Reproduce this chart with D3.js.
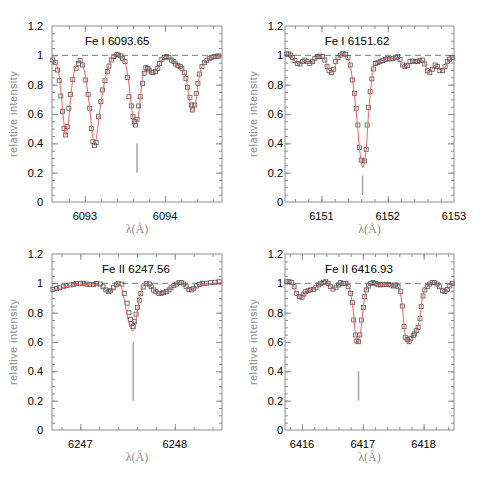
<!DOCTYPE html>
<html>
<head>
<meta charset="utf-8">
<script src="https://cdn.jsdelivr.net/npm/d3@7"></script>
<style>
  body { margin: 0; background: #fff; }
  svg { display: block; }
  text { font-family: "Liberation Sans", Arial, sans-serif; }
</style>
</head>
<body>
<script>
// line labels and positions of the marked line
var titles = ["Fe I 6093.65", "Fe I 6151.62", "Fe II 6247.56", "Fe II 6416.93"];
var lineCenters = [6093.65, 6151.62, 6247.56, 6416.93];
var markLow = [0.2, 0.05, 0.2, 0.2];
var markHigh = [0.4, 0.18, 0.6, 0.4];
var titleWave = [6093.0, 6151.05, 6247.23, 6416.38];

var xDomains = [[6092.59, 6094.71], [6150.45, 6153.0], [6246.7, 6248.5], [6415.72, 6418.5]];
var xTicks = [[6093, 6094], [6151, 6152, 6153], [6247, 6248], [6416, 6417, 6418]];
var yTicks = [0, 0.2, 0.4, 0.6, 0.8, 1, 1.2];

// observed spectrum (squares)
var obsWave1 = [6092.60, 6092.63, 6092.66, 6092.68, 6092.70, 6092.72, 6092.74, 6092.76, 6092.78, 6092.80, 6092.82, 6092.85, 6092.89, 6092.92, 6092.94, 6092.97, 6093.01, 6093.04, 6093.06, 6093.08, 6093.10, 6093.12, 6093.14, 6093.17, 6093.20, 6093.22, 6093.25, 6093.28, 6093.30, 6093.33, 6093.36, 6093.40, 6093.42, 6093.45, 6093.47, 6093.50, 6093.53, 6093.55, 6093.58, 6093.60, 6093.62, 6093.63, 6093.65, 6093.67, 6093.69, 6093.72, 6093.74, 6093.76, 6093.78, 6093.80, 6093.83, 6093.85, 6093.88, 6093.91, 6093.93, 6093.96, 6093.99, 6094.02, 6094.05, 6094.08, 6094.11, 6094.13, 6094.16, 6094.19, 6094.21, 6094.24, 6094.26, 6094.28, 6094.31, 6094.33, 6094.34, 6094.37, 6094.39, 6094.41, 6094.43, 6094.46, 6094.49, 6094.52, 6094.55, 6094.58, 6094.61, 6094.65, 6094.67];
var obsFlux1 = [0.968, 0.952, 0.900, 0.827, 0.723, 0.616, 0.502, 0.457, 0.514, 0.639, 0.734, 0.836, 0.911, 0.945, 0.964, 0.934, 0.832, 0.734, 0.639, 0.502, 0.411, 0.384, 0.405, 0.582, 0.684, 0.764, 0.827, 0.889, 0.927, 0.968, 0.991, 1.007, 1.002, 0.995, 0.980, 0.957, 0.848, 0.718, 0.655, 0.582, 0.548, 0.525, 0.564, 0.655, 0.718, 0.809, 0.877, 0.916, 0.911, 0.900, 0.886, 0.882, 0.889, 0.911, 0.945, 0.973, 0.986, 0.991, 0.984, 0.968, 0.957, 0.941, 0.930, 0.923, 0.911, 0.882, 0.843, 0.782, 0.714, 0.661, 0.627, 0.661, 0.741, 0.809, 0.873, 0.923, 0.950, 0.964, 0.977, 0.986, 0.991, 0.995, 0.995];

var obsWave2 = [6150.475, 6150.505, 6150.535, 6150.565, 6150.60, 6150.635, 6150.675, 6150.715, 6150.75, 6150.785, 6150.825, 6150.865, 6150.90, 6150.935, 6150.975, 6151.015, 6151.05, 6151.085, 6151.115, 6151.15, 6151.185, 6151.215, 6151.25, 6151.285, 6151.325, 6151.365, 6151.40, 6151.435, 6151.465, 6151.50, 6151.525, 6151.55, 6151.575, 6151.60, 6151.65, 6151.675, 6151.69, 6151.71, 6151.735, 6151.76, 6151.785, 6151.815, 6151.85, 6151.885, 6151.925, 6151.965, 6152.00, 6152.035, 6152.075, 6152.115, 6152.15, 6152.185, 6152.225, 6152.26, 6152.30, 6152.335, 6152.375, 6152.415, 6152.45, 6152.485, 6152.525, 6152.56, 6152.60, 6152.635, 6152.675, 6152.715, 6152.75, 6152.785, 6152.825, 6152.865, 6152.90, 6152.935, 6152.975];
var obsFlux2 = [1.009, 1.009, 1.002, 0.986, 0.964, 0.945, 0.941, 0.957, 0.968, 0.957, 0.945, 0.957, 0.980, 0.991, 0.995, 0.991, 0.968, 0.923, 0.895, 0.882, 0.905, 0.957, 0.986, 1.002, 1.014, 1.007, 0.986, 0.934, 0.832, 0.741, 0.639, 0.525, 0.370, 0.286, 0.280, 0.359, 0.525, 0.645, 0.752, 0.839, 0.907, 0.945, 0.950, 0.957, 0.964, 0.973, 0.980, 0.975, 0.977, 0.984, 0.991, 0.973, 0.934, 0.923, 0.930, 0.957, 0.961, 0.957, 0.957, 0.964, 0.968, 0.941, 0.895, 0.882, 0.905, 0.934, 0.923, 0.895, 0.895, 0.923, 0.957, 0.973, 0.986];

var obsWave3 = [6246.71, 6246.75, 6246.78, 6246.82, 6246.85, 6246.89, 6246.93, 6246.96, 6247.00, 6247.03, 6247.07, 6247.10, 6247.14, 6247.17, 6247.21, 6247.24, 6247.27, 6247.30, 6247.32, 6247.35, 6247.38, 6247.40, 6247.44, 6247.465, 6247.495, 6247.515, 6247.53, 6247.545, 6247.56, 6247.575, 6247.59, 6247.605, 6247.625, 6247.64, 6247.665, 6247.70, 6247.73, 6247.75, 6247.775, 6247.80, 6247.83, 6247.855, 6247.88, 6247.91, 6247.94, 6247.96, 6247.99, 6248.02, 6248.045, 6248.07, 6248.095, 6248.12, 6248.15, 6248.175, 6248.20, 6248.23, 6248.26, 6248.29, 6248.335, 6248.38, 6248.425, 6248.47];
var obsFlux3 = [0.959, 0.964, 0.970, 0.977, 0.984, 0.989, 0.993, 0.998, 1.000, 1.000, 0.995, 0.991, 0.993, 0.998, 0.995, 0.977, 0.955, 0.943, 0.950, 0.970, 0.989, 1.000, 0.995, 0.930, 0.865, 0.800, 0.755, 0.725, 0.705, 0.740, 0.790, 0.835, 0.885, 0.930, 0.975, 0.998, 0.995, 0.977, 0.955, 0.943, 0.932, 0.932, 0.936, 0.943, 0.955, 0.970, 0.984, 0.995, 1.005, 1.005, 0.995, 0.977, 0.959, 0.955, 0.966, 0.982, 0.993, 1.000, 1.000, 1.005, 1.007, 1.011];

var obsWave4 = [6415.75, 6415.79, 6415.83, 6415.87, 6415.91, 6415.96, 6416.00, 6416.03, 6416.06, 6416.10, 6416.14, 6416.19, 6416.23, 6416.27, 6416.31, 6416.35, 6416.39, 6416.43, 6416.47, 6416.51, 6416.56, 6416.60, 6416.63, 6416.68, 6416.72, 6416.76, 6416.80, 6416.83, 6416.85, 6416.88, 6416.90, 6416.93, 6416.95, 6416.98, 6417.01, 6417.03, 6417.06, 6417.09, 6417.13, 6417.17, 6417.21, 6417.25, 6417.29, 6417.33, 6417.38, 6417.42, 6417.46, 6417.50, 6417.54, 6417.58, 6417.62, 6417.65, 6417.68, 6417.70, 6417.73, 6417.76, 6417.79, 6417.83, 6417.85, 6417.88, 6417.91, 6417.94, 6417.96, 6417.99, 6418.02, 6418.06, 6418.10, 6418.14, 6418.18, 6418.22, 6418.26, 6418.31, 6418.35, 6418.39, 6418.43, 6418.47];
var obsFlux4 = [1.011, 1.011, 1.007, 0.977, 0.932, 0.909, 0.905, 0.927, 0.943, 0.950, 0.955, 0.959, 0.973, 0.989, 1.000, 1.007, 1.011, 1.000, 0.977, 0.961, 0.973, 0.989, 1.005, 1.000, 1.000, 0.977, 0.932, 0.868, 0.750, 0.648, 0.607, 0.602, 0.648, 0.750, 0.836, 0.909, 0.955, 0.982, 1.000, 1.005, 1.000, 0.993, 0.989, 0.993, 0.993, 0.993, 0.989, 0.982, 0.989, 0.977, 0.943, 0.845, 0.705, 0.632, 0.618, 0.602, 0.625, 0.643, 0.655, 0.677, 0.700, 0.761, 0.841, 0.914, 0.955, 0.977, 0.995, 1.005, 1.005, 0.995, 0.977, 0.950, 0.943, 0.959, 0.982, 1.000];

// synthetic fit (red line)
var modWave1 = [6092.59, 6092.63, 6092.67, 6092.70, 6092.73, 6092.76, 6092.79, 6092.82, 6092.86, 6092.90, 6092.94, 6092.98, 6093.02, 6093.06, 6093.09, 6093.12, 6093.15, 6093.19, 6093.24, 6093.30, 6093.36, 6093.41, 6093.46, 6093.50, 6093.54, 6093.58, 6093.62, 6093.65, 6093.69, 6093.73, 6093.77, 6093.81, 6093.85, 6093.89, 6093.94, 6094.00, 6094.06, 6094.12, 6094.18, 6094.22, 6094.26, 6094.30, 6094.34, 6094.37, 6094.41, 6094.45, 6094.50, 6094.56, 6094.63, 6094.71];
var modFlux1 = [0.975, 0.955, 0.890, 0.760, 0.590, 0.455, 0.520, 0.700, 0.870, 0.940, 0.965, 0.920, 0.810, 0.640, 0.480, 0.385, 0.460, 0.640, 0.800, 0.930, 0.990, 1.005, 0.990, 0.955, 0.840, 0.660, 0.530, 0.550, 0.700, 0.870, 0.915, 0.890, 0.880, 0.895, 0.950, 0.990, 0.975, 0.945, 0.925, 0.905, 0.850, 0.720, 0.620, 0.650, 0.800, 0.910, 0.955, 0.980, 0.990, 1.000];

var modWave2 = [6150.45, 6150.50, 6150.55, 6150.60, 6150.66, 6150.72, 6150.76, 6150.82, 6150.87, 6150.93, 6151.00, 6151.05, 6151.10, 6151.15, 6151.20, 6151.25, 6151.31, 6151.37, 6151.42, 6151.46, 6151.50, 6151.54, 6151.58, 6151.625, 6151.67, 6151.71, 6151.75, 6151.79, 6151.83, 6151.88, 6151.94, 6152.00, 6152.06, 6152.12, 6152.16, 6152.20, 6152.25, 6152.30, 6152.35, 6152.42, 6152.48, 6152.53, 6152.57, 6152.62, 6152.67, 6152.71, 6152.75, 6152.80, 6152.85, 6152.90, 6152.95, 6153.0];
var modFlux2 = [1.005, 1.005, 0.990, 0.960, 0.940, 0.955, 0.965, 0.945, 0.955, 0.985, 0.990, 0.970, 0.905, 0.880, 0.920, 0.980, 1.005, 1.000, 0.955, 0.860, 0.720, 0.540, 0.340, 0.235, 0.340, 0.600, 0.800, 0.920, 0.950, 0.955, 0.970, 0.980, 0.977, 0.985, 0.975, 0.940, 0.920, 0.930, 0.955, 0.958, 0.965, 0.965, 0.930, 0.880, 0.905, 0.930, 0.925, 0.895, 0.910, 0.955, 0.980, 0.990];

var modWave3 = [6246.70, 6246.78, 6246.86, 6246.94, 6247.00, 6247.07, 6247.14, 6247.20, 6247.25, 6247.30, 6247.35, 6247.39, 6247.42, 6247.455, 6247.485, 6247.51, 6247.535, 6247.555, 6247.575, 6247.60, 6247.63, 6247.665, 6247.70, 6247.76, 6247.82, 6247.88, 6247.94, 6248.00, 6248.06, 6248.11, 6248.16, 6248.21, 6248.27, 6248.33, 6248.40, 6248.50];
var modFlux3 = [0.955, 0.965, 0.980, 0.990, 0.995, 0.990, 0.990, 0.990, 0.960, 0.940, 0.960, 0.985, 0.995, 0.920, 0.820, 0.740, 0.690, 0.675, 0.700, 0.790, 0.905, 0.980, 1.000, 0.970, 0.935, 0.935, 0.955, 0.990, 1.000, 0.980, 0.960, 0.965, 0.990, 0.995, 1.000, 1.007];

var modWave4 = [6415.72, 6415.80, 6415.85, 6415.90, 6415.96, 6416.01, 6416.06, 6416.12, 6416.19, 6416.25, 6416.31, 6416.38, 6416.44, 6416.50, 6416.56, 6416.62, 6416.70, 6416.76, 6416.80, 6416.84, 6416.88, 6416.92, 6416.96, 6417.00, 6417.04, 6417.09, 6417.15, 6417.22, 6417.30, 6417.38, 6417.46, 6417.53, 6417.58, 6417.62, 6417.66, 6417.70, 6417.75, 6417.80, 6417.85, 6417.90, 6417.94, 6417.98, 6418.03, 6418.09, 6418.15, 6418.21, 6418.27, 6418.33, 6418.38, 6418.44, 6418.50];
var modFlux4 = [1.010, 1.010, 0.990, 0.940, 0.905, 0.905, 0.940, 0.952, 0.960, 0.985, 1.000, 1.010, 0.995, 0.965, 0.970, 0.995, 1.000, 0.980, 0.930, 0.820, 0.660, 0.600, 0.660, 0.810, 0.930, 0.985, 1.000, 0.997, 0.990, 0.993, 0.987, 0.985, 0.975, 0.930, 0.800, 0.640, 0.595, 0.625, 0.655, 0.700, 0.770, 0.900, 0.965, 0.990, 1.005, 0.995, 0.970, 0.945, 0.950, 0.980, 1.005];

var obsWaves = [obsWave1, obsWave2, obsWave3, obsWave4];
var obsFluxes = [obsFlux1, obsFlux2, obsFlux3, obsFlux4];
var modWaves = [modWave1, modWave2, modWave3, modWave4];
var modFluxes = [modFlux1, modFlux2, modFlux3, modFlux4];

// panel frames: [left, right, top, bottom] and panel origin
var frames = [[52, 222, 26, 202], [285, 454, 26, 202], [52, 222, 254, 430], [285, 454, 254, 430]];
var origins = [[0, 0], [240, 0], [0, 228], [240, 228]];

var svg = d3.select("body").append("svg")
    .attr("width", 480)
    .attr("height", 480);

var grey = "#8c8c8c";

for (var p = 0; p < 4; p++) {
    var f = frames[p], o = origins[p];
    var x = d3.scaleLinear().domain(xDomains[p]).range([f[0], f[1]]);
    var y = d3.scaleLinear().domain([0, 1.2]).range([f[3], f[2]]);

    var xMinor = d3.range(Math.ceil(xDomains[p][0] * 5) / 5, xDomains[p][1] + 0.001, 0.2)
        .filter(function (v) { return v > xDomains[p][0] + 0.02 && v < xDomains[p][1] - 0.02; });
    var yMinor = d3.range(0.05, 1.2, 0.05);
    var xMajor = xTicks[p].filter(function (v) { return v < xDomains[p][1] - 0.02; });

    var g = svg.append("g");

    // ticks, all inward
    function tickGroup(axis, tx, ty) {
        var a = g.append("g").attr("transform", "translate(" + tx + "," + ty + ")").call(axis);
        a.select(".domain").remove();
        a.selectAll("line").attr("stroke", grey).attr("stroke-width", 1);
        a.selectAll("text").remove();
    }
    tickGroup(d3.axisBottom(x).tickValues(xMinor).tickSize(-3), 0, f[3]);
    tickGroup(d3.axisBottom(x).tickValues(xMajor).tickSize(-6), 0, f[3]);
    tickGroup(d3.axisTop(x).tickValues(xMinor).tickSize(-3), 0, f[2]);
    tickGroup(d3.axisTop(x).tickValues(xMajor).tickSize(-6), 0, f[2]);
    tickGroup(d3.axisLeft(y).tickValues(yMinor).tickSize(-3), f[0], 0);
    tickGroup(d3.axisLeft(y).tickValues(yTicks.slice(1, 6)).tickSize(-6), f[0], 0);
    tickGroup(d3.axisRight(y).tickValues(yMinor).tickSize(-3), f[1], 0);
    tickGroup(d3.axisRight(y).tickValues(yTicks.slice(1, 6)).tickSize(-6), f[1], 0);

    // frame
    g.append("rect")
        .attr("x", f[0]).attr("y", f[2])
        .attr("width", f[1] - f[0]).attr("height", f[3] - f[2])
        .attr("fill", "none").attr("stroke", grey).attr("stroke-width", 1);

    // tick labels
    g.selectAll(".ylab").data(yTicks).enter().append("text")
        .attr("x", o[0] + 43)
        .attr("y", function (d) { return y(d) + 4; })
        .attr("text-anchor", "end")
        .attr("font-size", 11)
        .attr("fill", "#000")
        .text(function (d) { return d; });
    g.selectAll(".xlab").data(xTicks[p]).enter().append("text")
        .attr("x", function (d) { return x(d); })
        .attr("y", f[3] + 18)
        .attr("text-anchor", "middle")
        .attr("font-size", 11)
        .attr("fill", "#000")
        .text(function (d) { return d; });

    // axis titles
    g.append("text")
        .attr("x", (f[0] + f[1]) / 2).attr("y", f[3] + 31)
        .attr("text-anchor", "middle")
        .attr("font-size", 12)
        .attr("fill", grey)
        .style("font-family", "'Liberation Serif', 'DejaVu Serif', serif")
        .text("λ(Å)");
    g.append("text")
        .attr("transform", "translate(" + (o[0] + 17) + "," + ((f[2] + f[3]) / 2) + ") rotate(-90)")
        .attr("text-anchor", "middle")
        .attr("font-size", 11)
        .attr("letter-spacing", 0.4)
        .attr("fill", grey)
        .text("relative intensity");

    // continuum
    g.append("line")
        .attr("x1", f[0]).attr("x2", f[1])
        .attr("y1", y(1)).attr("y2", y(1))
        .attr("stroke", "#777").attr("stroke-width", 1)
        .attr("stroke-dasharray", "6,4");

    // line title
    g.append("text")
        .attr("x", x(titleWave[p])).attr("y", f[2] + 19)
        .attr("font-size", 11.5)
        .attr("fill", "#000")
        .text(titles[p]);

    // marker of the measured line
    g.append("line")
        .attr("x1", x(lineCenters[p])).attr("x2", x(lineCenters[p]))
        .attr("y1", y(markLow[p])).attr("y2", y(markHigh[p]))
        .attr("stroke", "#999").attr("stroke-width", 1.3);

    // observed points
    var pts = obsWaves[p].map(function (w, i) { return [w, obsFluxes[p][i]]; });
    g.selectAll(".pt").data(pts).enter().append("rect")
        .attr("x", function (d) { return x(d[0]) - 2; })
        .attr("y", function (d) { return y(d[1]) - 2; })
        .attr("width", 4).attr("height", 4)
        .attr("fill", "none")
        .attr("stroke", "#555")
        .attr("stroke-width", 0.8);

    // fit
    var mod = modWaves[p].map(function (w, i) { return [w, modFluxes[p][i]]; });
    var line = d3.line()
        .x(function (d) { return x(d[0]); })
        .y(function (d) { return y(d[1]); })
        .curve(d3.curveCatmullRom);
    g.append("path")
        .attr("d", line(mod))
        .attr("fill", "none")
        .attr("stroke", "#f26060")
        .attr("stroke-width", 1);
}
</script>
</body>
</html>
